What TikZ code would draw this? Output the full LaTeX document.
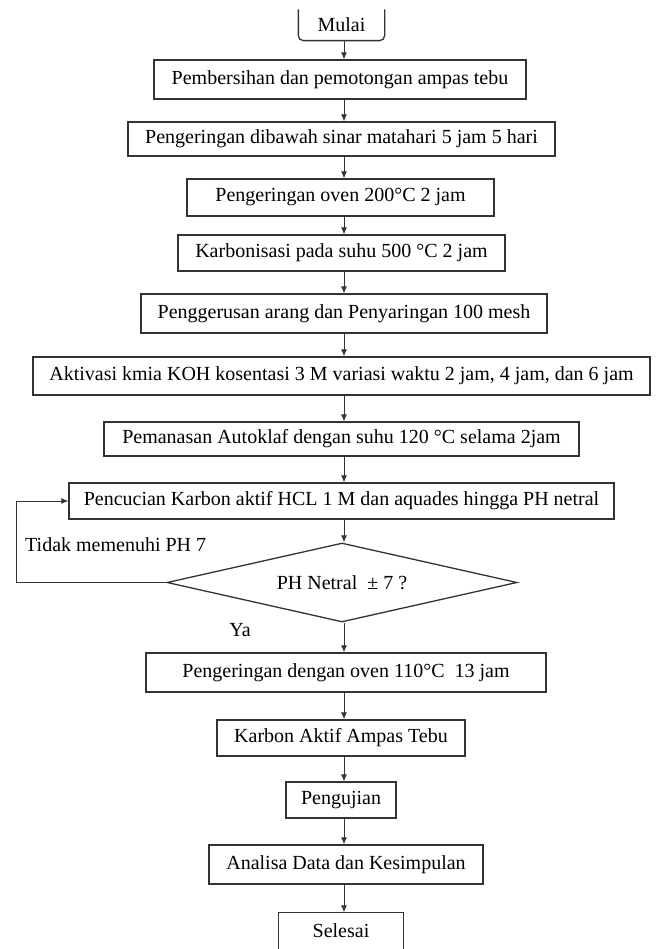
\documentclass[tikz,border=0pt]{standalone}
\usepackage{fontspec}
\setmainfont{Liberation Serif}
\usetikzlibrary{arrows.meta,shapes.geometric}
\begin{document}
\begin{tikzpicture}[x=1pt,y=-1pt,
  lc/.style={draw=black!80,line width=1.3pt},
  box/.style={lc,rectangle,inner sep=0pt,align=center,font=\fontsize{20}{23}\selectfont},
  lbl/.style={inner sep=0pt,font=\fontsize{20}{23}\selectfont},
  arr/.style={draw=black!80,line width=0.9pt,-{Latex[length=7pt,width=6pt]}}]
\useasboundingbox (0,0) rectangle (660,949);
\coordinate (ax) at (344,0);
% start (open top, rounded bottom)
\node[box,draw=none,minimum width=85pt,minimum height=30pt] (mulai) at (341.5,25) {Mulai};
\draw[lc,rounded corners=5pt] (mulai.north west) -- (mulai.south west) -- (mulai.south east) -- (mulai.north east);
\node[box,minimum width=372pt,minimum height=39pt] (b1) at (340,79.5) {Pembersihan dan pemotongan ampas tebu};
\node[box,minimum width=427pt,minimum height=34pt] (b2) at (341.5,139) {Pengeringan dibawah sinar matahari 5 jam 5 hari};
\node[box,minimum width=307pt,minimum height=37pt] (b3) at (340.5,197.5) {Pengeringan oven 200°C 2 jam};
\node[box,minimum width=327pt,minimum height=36pt] (b4) at (341.5,253) {Karbonisasi pada suhu 500 °C 2 jam};
\node[box,minimum width=406pt,minimum height=39pt] (b5) at (344,313.5) {Penggerusan arang dan Penyaringan 100 mesh};
\node[box,minimum width=617pt,minimum height=38pt] (b6) at (341.5,376) {Aktivasi kmia KOH kosentasi 3 M variasi waktu 2 jam, 4 jam, dan 6 jam};
\node[box,minimum width=475pt,minimum height=34pt] (b7) at (341.5,439) {Pemanasan Autoklaf dengan suhu 120 °C selama 2jam};
\node[box,minimum width=545pt,minimum height=36pt] (b8) at (341.5,501) {Pencucian Karbon aktif HCL 1 M dan aquades hingga PH netral};
\node[box,diamond,aspect=4.4,minimum width=350pt,minimum height=79pt,inner sep=0pt] (d) at (342,582.5) {PH Netral\ \ ± 7 ?};
\node[box,minimum width=400pt,minimum height=39pt] (b9) at (346,672.5) {Pengeringan dengan oven 110°C\ \ 13 jam};
\node[box,minimum width=248pt,minimum height=36pt] (b10) at (341,738) {Karbon Aktif Ampas Tebu};
\node[box,minimum width=110pt,minimum height=36pt] (b11) at (341,800) {Pengujian};
\node[box,minimum width=274pt,minimum height=39pt] (b12) at (346,864.5) {Analisa Data dan Kesimpulan};
\node[box,draw=none,minimum width=124pt,minimum height=36pt] (sel) at (341,931) {Selesai};
\draw[lc] (sel.south west) -- (sel.north west) -- (sel.north east) -- (sel.south east);
% connectors
\draw[arr] (mulai.south -| ax) -- (b1.north -| ax);
\draw[arr] (b1.south -| ax) -- (b2.north -| ax);
\draw[arr] (b2.south -| ax) -- (b3.north -| ax);
\draw[arr] (b3.south -| ax) -- (b4.north -| ax);
\draw[arr] (b4.south -| ax) -- (b5.north -| ax);
\draw[arr] (b5.south -| ax) -- (b6.north -| ax);
\draw[arr] (b6.south -| ax) -- (b7.north -| ax);
\draw[arr] (b7.south -| ax) -- (b8.north -| ax);
\draw[arr] (b8.south -| ax) -- (d.north -| ax);
\draw[arr] (d.south -| ax) -- (b9.north -| ax);
\draw[arr] (b9.south -| ax) -- (b10.north -| ax);
\draw[arr] (b10.south -| ax) -- (b11.north -| ax);
\draw[arr] (b11.south -| ax) -- (b12.north -| ax);
\draw[arr] (b12.south -| ax) -- (sel.north -| ax);
% loop back
\coordinate (lp) at (16,582.5);
\draw[arr] (d.west) -- (lp) |- (b8.west);
\node[lbl,anchor=west] (no) at (25,545) {Tidak memenuhi PH 7};
\node[lbl] (ya) at (240,630) {Ya};
\end{tikzpicture}
\end{document}
